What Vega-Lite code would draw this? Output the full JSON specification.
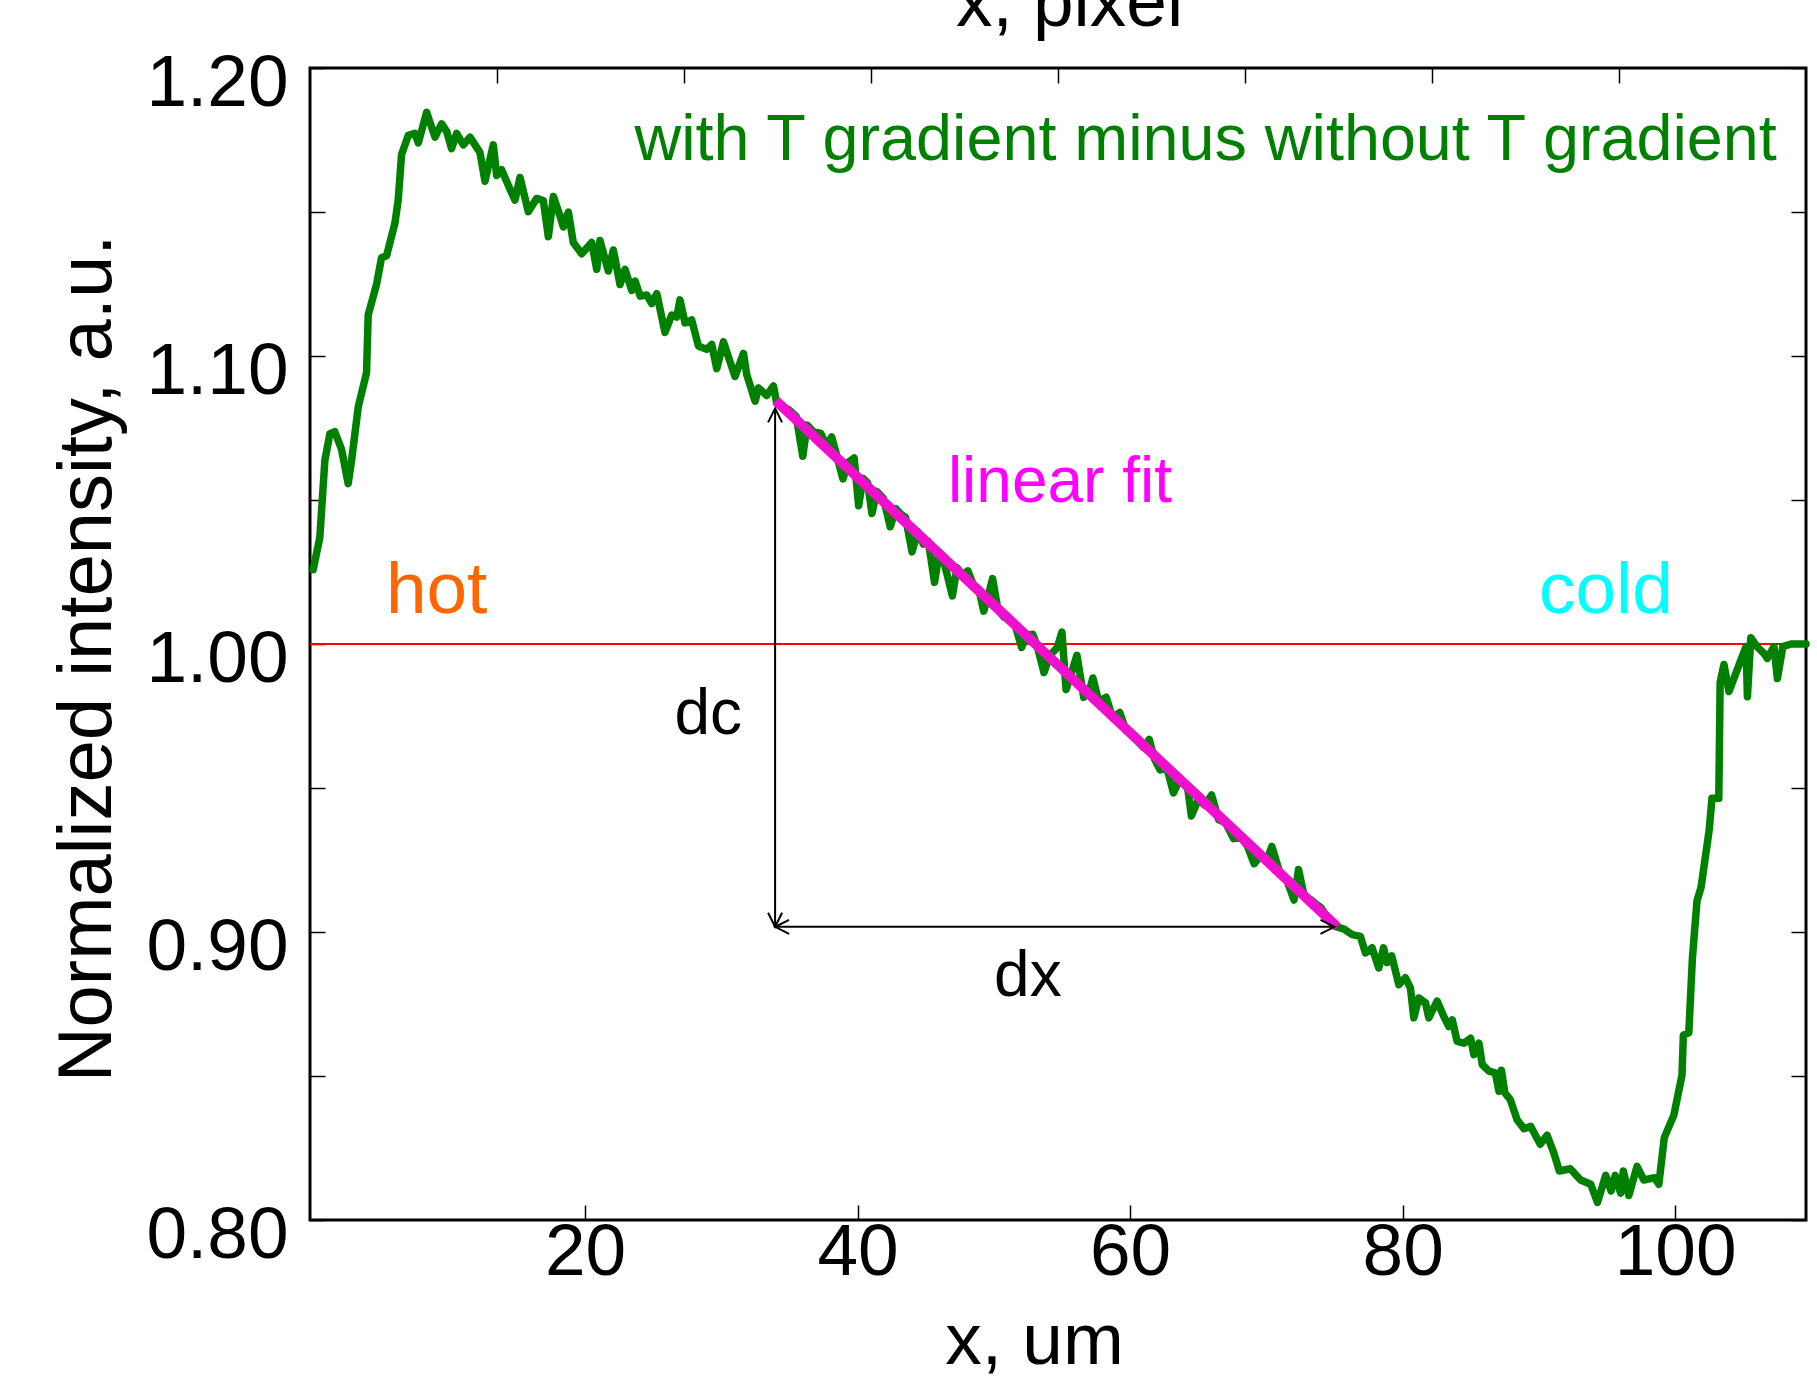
{
  "$schema": "https://vega.github.io/schema/vega-lite/v6.json",
  "width": 1496,
  "height": 1152,
  "autosize": {"type": "none"},
  "padding": {"left": 310, "top": 68, "right": 11, "bottom": 156},
  "background": "white",
  "config": {
    "view": {"stroke": "black", "strokeWidth": 3},
    "font": "Liberation Sans",
    "axis": {
      "grid": false, "domain": false, "tickColor": "black", "tickWidth": 1.5, "tickSize": -15,
      "labelFont": "Liberation Sans", "labelFontSize": 73, "labelColor": "black",
      "titleFont": "Liberation Sans", "titleFontSize": 73, "titleFontWeight": "normal", "titleColor": "black",
      "labelFlush": false, "labelOverlap": false
    }
  },
  "resolve": {"scale": {"x": "independent"}, "axis": {"x": "independent", "y": "independent"}},
  "layer": [
    {
      "data": {"values": [{"px": 0, "y": 1.0}, {"px": 80, "y": 1.0}]},
      "mark": {"type": "line", "color": "#ff0000", "strokeWidth": 2},
      "encoding": {
        "x": {"field": "px", "type": "quantitative", "scale": {"domain": [0, 80], "nice": false, "zero": false},
          "axis": {"orient": "top", "values": [10, 20, 30, 40, 50, 60, 70], "labels": false, "title": "x, pixel",
            "titleX": 759, "titleY": -43, "titleBaseline": "alphabetic", "titleAlign": "center"}},
        "y": {"field": "y", "type": "quantitative", "scale": {"domain": [0.8, 1.2], "nice": false, "zero": false},
          "axis": {"orient": "right", "values": [0.8, 0.85, 0.9, 0.95, 1.0, 1.05, 1.1, 1.15, 1.2], "labels": false, "title": null}}
      }
    },
    {
      "layer": [
        {
          "data": {"values": [
            {"x":0.05,"y":1.0258},{"x":0.54,"y":1.037},{"x":0.91,"y":1.0637},{"x":1.28,"y":1.073},{"x":1.64,"y":1.0737},
            {"x":2.13,"y":1.0677},{"x":2.62,"y":1.0557},{"x":2.87,"y":1.0637},{"x":3.36,"y":1.0823},{"x":3.97,"y":1.0942},
            {"x":4.09,"y":1.1142},{"x":4.70,"y":1.1248},{"x":5.07,"y":1.1341},{"x":5.44,"y":1.1348},{"x":6.05,"y":1.1461},
            {"x":6.29,"y":1.1541},{"x":6.54,"y":1.170},{"x":7.03,"y":1.1766},{"x":7.52,"y":1.1773},{"x":7.77,"y":1.174},
            {"x":8.38,"y":1.1846},{"x":8.99,"y":1.176},{"x":9.48,"y":1.1806},{"x":9.85,"y":1.178},{"x":10.21,"y":1.172},
            {"x":10.58,"y":1.1773},{"x":11.07,"y":1.1733},{"x":11.56,"y":1.176},{"x":12.29,"y":1.1707},{"x":12.66,"y":1.1607},
            {"x":13.27,"y":1.1733},{"x":13.52,"y":1.1627},{"x":13.88,"y":1.1647},{"x":14.49,"y":1.158},{"x":14.86,"y":1.1541},
            {"x":15.23,"y":1.162},{"x":15.84,"y":1.1501},{"x":16.45,"y":1.1547},{"x":16.94,"y":1.154},{"x":17.31,"y":1.1414},
            {"x":17.68,"y":1.1554},{"x":18.16,"y":1.1487},{"x":18.41,"y":1.1448},{"x":18.78,"y":1.150},{"x":19.14,"y":1.1394},
            {"x":19.76,"y":1.1355},{"x":20.49,"y":1.1394},{"x":20.86,"y":1.1301},{"x":21.10,"y":1.1401},{"x":21.71,"y":1.1295},
            {"x":22.08,"y":1.1368},{"x":22.57,"y":1.1248},{"x":22.94,"y":1.1301},{"x":23.43,"y":1.1228},{"x":23.68,"y":1.126},
            {"x":24.05,"y":1.1208},{"x":24.53,"y":1.1212},{"x":24.90,"y":1.1182},{"x":25.27,"y":1.1216},{"x":25.87,"y":1.1082},
            {"x":26.36,"y":1.1142},{"x":26.73,"y":1.1135},{"x":26.97,"y":1.1195},{"x":27.34,"y":1.1115},{"x":27.83,"y":1.1125},
            {"x":28.32,"y":1.1035},{"x":28.93,"y":1.1023},{"x":29.30,"y":1.104},{"x":29.67,"y":1.0956},{"x":30.16,"y":1.1049},
            {"x":30.53,"y":1.0996},{"x":31.01,"y":1.0929},{"x":31.63,"y":1.1009},{"x":31.87,"y":1.0935},{"x":32.48,"y":1.0843},
            {"x":32.73,"y":1.0889},{"x":33.34,"y":1.0863},{"x":33.83,"y":1.0896},{"x":34.07,"y":1.0836},
            {"x":34.6,"y":1.0822},{"x":35.0,"y":1.0812},{"x":35.5,"y":1.079},{"x":35.98,"y":1.0652},{"x":36.3,"y":1.076},
            {"x":36.8,"y":1.0735},{"x":37.29,"y":1.0732},{"x":37.7,"y":1.069},{"x":38.1,"y":1.0719},{"x":38.5,"y":1.065},
            {"x":38.93,"y":1.0573},{"x":39.3,"y":1.063},{"x":39.75,"y":1.0646},{"x":40.08,"y":1.048},{"x":40.4,"y":1.0575},
            {"x":40.74,"y":1.0559},{"x":41.06,"y":1.0453},{"x":41.4,"y":1.053},{"x":41.9,"y":1.0506},{"x":42.4,"y":1.0407},
            {"x":42.8,"y":1.047},{"x":43.2,"y":1.045},{"x":43.52,"y":1.044},{"x":44.0,"y":1.032},{"x":44.4,"y":1.039},
            {"x":44.83,"y":1.0347},{"x":45.2,"y":1.0355},{"x":45.65,"y":1.0214},{"x":46.0,"y":1.032},{"x":46.3,"y":1.0293},
            {"x":46.96,"y":1.0167},{"x":47.3,"y":1.0265},{"x":47.7,"y":1.024},{"x":48.1,"y":1.0254},{"x":48.5,"y":1.0205},
            {"x":48.9,"y":1.019},{"x":49.26,"y":1.0114},{"x":49.6,"y":1.017},{"x":49.91,"y":1.0227},{"x":50.3,"y":1.012},
            {"x":50.73,"y":1.0094},{"x":51.2,"y":1.0085},{"x":51.6,"y":1.006},{"x":52.04,"y":0.9988},{"x":52.4,"y":1.003},
            {"x":52.86,"y":1.0034},{"x":53.2,"y":0.999},{"x":53.68,"y":0.9901},{"x":54.1,"y":0.996},{"x":54.66,"y":0.9988},
            {"x":55.0,"y":1.0041},{"x":55.3,"y":0.9842},{"x":55.7,"y":0.99},{"x":56.1,"y":0.9961},{"x":56.6,"y":0.9815},
            {"x":57.0,"y":0.9835},{"x":57.27,"y":0.9882},{"x":57.7,"y":0.98},{"x":58.25,"y":0.9815},{"x":58.7,"y":0.9745},
            {"x":59.24,"y":0.9762},{"x":59.7,"y":0.97},{"x":60.2,"y":0.9682},{"x":60.6,"y":0.966},{"x":61.0,"y":0.964},
            {"x":61.4,"y":0.9669},{"x":61.8,"y":0.96},{"x":62.2,"y":0.9563},{"x":62.7,"y":0.957},{"x":63.18,"y":0.9483},
            {"x":63.6,"y":0.9525},{"x":64.2,"y":0.951},{"x":64.5,"y":0.9403},{"x":65.0,"y":0.946},{"x":65.5,"y":0.944},
            {"x":65.98,"y":0.9476},{"x":66.5,"y":0.939},{"x":67.0,"y":0.938},{"x":67.6,"y":0.9324},{"x":68.1,"y":0.933},
            {"x":68.6,"y":0.93},{"x":69.1,"y":0.9237},{"x":69.6,"y":0.9265},{"x":70.0,"y":0.9245},{"x":70.4,"y":0.9297},
            {"x":71.0,"y":0.9204},{"x":71.5,"y":0.918},{"x":72.03,"y":0.9111},{"x":72.36,"y":0.9217},{"x":72.8,"y":0.912},
            {"x":73.3,"y":0.9111},{"x":73.7,"y":0.9095},{"x":74.0,"y":0.9085},{"x":74.5,"y":0.905},{"x":75.16,"y":0.9018},
            {"x":75.7,"y":0.901},{"x":76.3,"y":0.8991},{"x":76.9,"y":0.8985},{"x":77.27,"y":0.8927},{"x":77.76,"y":0.8945},
            {"x":78.25,"y":0.8875},{"x":78.6,"y":0.8945},{"x":78.86,"y":0.8894},{"x":79.2,"y":0.8917},{"x":79.72,"y":0.8817},
            {"x":80.2,"y":0.8841},{"x":80.57,"y":0.8806},{"x":80.82,"y":0.8702},{"x":81.19,"y":0.8771},{"x":81.68,"y":0.8754},
            {"x":81.92,"y":0.8702},{"x":82.53,"y":0.876},{"x":83.02,"y":0.8707},{"x":83.39,"y":0.8672},{"x":83.64,"y":0.8695},
            {"x":84.0,"y":0.862},{"x":84.5,"y":0.8614},{"x":84.99,"y":0.8631},{"x":85.23,"y":0.8574},{"x":85.6,"y":0.8614},
            {"x":85.84,"y":0.854},{"x":86.33,"y":0.8517},{"x":86.8,"y":0.8511},{"x":87.07,"y":0.8447},{"x":87.25,"y":0.852},
            {"x":87.5,"y":0.8441},{"x":87.9,"y":0.8418},{"x":88.4,"y":0.8348},{"x":88.9,"y":0.8317},{"x":89.4,"y":0.8325},
            {"x":90.1,"y":0.8263},{"x":90.6,"y":0.8294},{"x":91.1,"y":0.8232},{"x":91.5,"y":0.817},{"x":92.3,"y":0.8178},
            {"x":93.06,"y":0.8139},{"x":93.8,"y":0.8124},{"x":94.3,"y":0.8061},{"x":94.9,"y":0.8155},{"x":95.3,"y":0.8101},
            {"x":95.6,"y":0.8155},{"x":96.0,"y":0.8093},{"x":96.2,"y":0.817},{"x":96.6,"y":0.8085},{"x":97.2,"y":0.8186},
            {"x":97.7,"y":0.8139},{"x":98.5,"y":0.8147},{"x":98.8,"y":0.8124},{"x":99.2,"y":0.8286},{"x":99.9,"y":0.8364},
            {"x":100.5,"y":0.8503},{"x":100.6,"y":0.8642},{"x":101.0,"y":0.865},{"x":101.26,"y":0.8906},{"x":101.6,"y":0.9108},
            {"x":101.9,"y":0.9155},{"x":102.5,"y":0.9356},{"x":102.7,"y":0.9464},{"x":103.2,"y":0.9464},{"x":103.3,"y":0.9867},
            {"x":103.58,"y":0.9929},{"x":103.95,"y":0.9835},{"x":104.7,"y":0.9929},{"x":105.2,"y":0.9991},{"x":105.3,"y":0.9817},
            {"x":105.55,"y":1.0022},{"x":106.0,"y":0.9991},{"x":106.5,"y":0.9968},{"x":106.76,"y":0.995},{"x":107.25,"y":0.9991},
            {"x":107.5,"y":0.988},{"x":107.9,"y":0.9991},{"x":108.5,"y":1.0},{"x":109.6,"y":1.0}
          ]},
          "mark": {"type": "line", "color": "#008000", "strokeWidth": 7.5, "strokeJoin": "round", "strokeCap": "round"},
          "encoding": {
            "x": {"field": "x", "type": "quantitative", "scale": {"domain": [-0.18, 109.6], "nice": false, "zero": false},
              "axis": {"orient": "bottom", "values": [20, 40, 60, 80, 100], "labelPadding": 69, "labelBaseline": "alphabetic",
                "title": "x, um", "titleX": 724, "titleY": 143, "titleBaseline": "alphabetic", "titleAlign": "center"}},
            "y": {"field": "y", "type": "quantitative", "scale": {"domain": [0.8, 1.2], "nice": false, "zero": false},
              "axis": {"orient": "left", "values": [0.8, 0.85, 0.9, 0.95, 1.0, 1.05, 1.1, 1.15, 1.2],
                "labelExpr": "round(datum.value*100) % 10 == 0 ? format(datum.value, '.2f') : ''",
                "labelPadding": 37, "labelBaseline": "alphabetic", "labelOffset": 37,
                "title": "Normalized intensity, a.u.", "titleFontSize": 76, "titleX": -200, "titleY": 590, "titleAngle": -90,
                "titleBaseline": "alphabetic", "titleAlign": "center"}}
          }
        },
        {
          "data": {"values": [{"x": 34.0, "y": 1.0845}, {"x": 75.2, "y": 0.9018}]},
          "mark": {"type": "line", "color": "#ee10cc", "strokeWidth": 10},
          "encoding": {
            "x": {"field": "x", "type": "quantitative"},
            "y": {"field": "y", "type": "quantitative"}
          }
        },
        {
          "data": {"values": [{"x": 33.95, "y": 1.0818, "y2": 0.9018}]},
          "mark": {"type": "rule", "color": "black", "strokeWidth": 2},
          "encoding": {
            "x": {"field": "x", "type": "quantitative"},
            "y": {"field": "y", "type": "quantitative"},
            "y2": {"field": "y2"}
          }
        },
        {
          "data": {"values": [{"x": 33.95, "x2": 75.0, "y": 0.9018}]},
          "mark": {"type": "rule", "color": "black", "strokeWidth": 2},
          "encoding": {
            "x": {"field": "x", "type": "quantitative"},
            "x2": {"field": "x2"},
            "y": {"field": "y", "type": "quantitative"}
          }
        },
        {
          "data": {"values": [
            {"x": 33.95, "y": 1.0818, "dir": "up"},
            {"x": 33.95, "y": 0.9018, "dir": "down"},
            {"x": 33.95, "y": 0.9018, "dir": "left"},
            {"x": 75.0, "y": 0.9018, "dir": "right"}
          ]},
          "mark": {"type": "point", "filled": false, "stroke": "black", "strokeWidth": 2, "size": 784, "opacity": 1},
          "encoding": {
            "x": {"field": "x", "type": "quantitative"},
            "y": {"field": "y", "type": "quantitative"},
            "shape": {"field": "dir", "type": "nominal", "legend": null,
              "scale": {"domain": ["up", "down", "left", "right"],
                "range": ["M-0.5,1L0,0L0.5,1", "M-0.5,-1L0,0L0.5,-1", "M1,-0.5L0,0L1,0.5", "M-1,-0.5L0,0L-1,0.5"]}}
          }
        },
        {
          "data": {"values": [{"x": 107.45, "y": 1.168, "label": "with T gradient minus without T gradient"}]},
          "mark": {"type": "text", "align": "right", "baseline": "alphabetic", "fontSize": 64.7, "color": "#008000"},
          "encoding": {
            "x": {"field": "x", "type": "quantitative"},
            "y": {"field": "y", "type": "quantitative"},
            "text": {"field": "label"}
          }
        },
        {
          "data": {"values": [{"x": 5.39, "y": 1.0108, "label": "hot"}]},
          "mark": {"type": "text", "align": "left", "baseline": "alphabetic", "fontSize": 73, "color": "#ff6600"},
          "encoding": {
            "x": {"field": "x", "type": "quantitative"},
            "y": {"field": "y", "type": "quantitative"},
            "text": {"field": "label"}
          }
        },
        {
          "data": {"values": [{"x": 90.0, "y": 1.0108, "label": "cold"}]},
          "mark": {"type": "text", "align": "left", "baseline": "alphabetic", "fontSize": 73, "color": "#00ffff"},
          "encoding": {
            "x": {"field": "x", "type": "quantitative"},
            "y": {"field": "y", "type": "quantitative"},
            "text": {"field": "label"}
          }
        },
        {
          "data": {"values": [{"x": 46.63, "y": 1.0493, "label": "linear fit"}]},
          "mark": {"type": "text", "align": "left", "baseline": "alphabetic", "fontSize": 64, "color": "#ff00ff"},
          "encoding": {
            "x": {"field": "x", "type": "quantitative"},
            "y": {"field": "y", "type": "quantitative"},
            "text": {"field": "label"}
          }
        },
        {
          "data": {"values": [{"x": 26.56, "y": 0.9689, "label": "dc"}, {"x": 50.02, "y": 0.8777, "label": "dx"}]},
          "mark": {"type": "text", "align": "left", "baseline": "alphabetic", "fontSize": 64, "color": "black"},
          "encoding": {
            "x": {"field": "x", "type": "quantitative"},
            "y": {"field": "y", "type": "quantitative"},
            "text": {"field": "label"}
          }
        }
      ]
    }
  ]
}
